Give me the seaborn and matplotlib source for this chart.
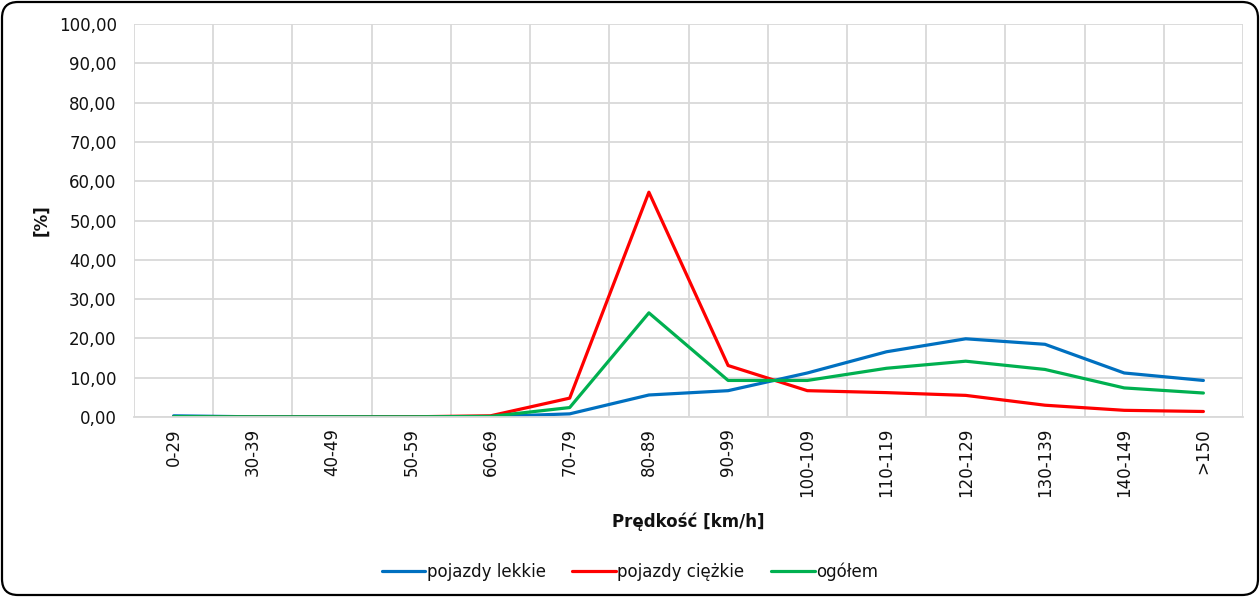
import pandas as pd
import matplotlib.pyplot as plt
import seaborn as sns
from matplotlib.patches import FancyBboxPatch
from matplotlib.ticker import FuncFormatter, FixedLocator
from matplotlib.transforms import IdentityTransform

# Data
categories = ['0-29', '30-39', '40-49', '50-59', '60-69', '70-79', '80-89',
              '90-99', '100-109', '110-119', '120-129', '130-139', '140-149', '>150']
light = [0.3, 0.05, 0.05, 0.05, 0.1, 0.8, 5.6, 6.7, 11.2, 16.6, 19.9, 18.5, 11.2, 9.3]
heavy = [0.0, 0.0, 0.0, 0.05, 0.3, 4.8, 57.2, 13.1, 6.7, 6.2, 5.5, 3.0, 1.7, 1.4]
total = [0.1, 0.05, 0.05, 0.05, 0.15, 2.4, 26.5, 9.3, 9.3, 12.4, 14.2, 12.1, 7.4, 6.1]
series_names = ['pojazdy lekkie', 'pojazdy ciężkie', 'ogółem']
colors = ['#0070c0', '#ff0000', '#00b050']

df = pd.DataFrame({
    'x': list(range(len(categories))) * 3,
    'value': light + heavy + total,
    'series': [s for s in series_names for _ in categories],
})

sns.set_style('white')
plt.rcParams['font.family'] = ['DejaVu Sans']
plt.rcParams['text.color'] = '#111111'

fig = plt.figure(figsize=(12.6, 5.97), dpi=100)
ax = fig.add_axes([134 / 1260, 1 - 417 / 597, (1243 - 134) / 1260, (417 - 24) / 597])

sns.lineplot(data=df, x='x', y='value', hue='series', hue_order=series_names,
             palette=colors, linewidth=2.3, ax=ax, legend=True)

ax.set_xlim(-0.5, len(categories) - 0.5)
ax.set_ylim(0, 100)
ax.set_yticks(range(0, 101, 10))
ax.yaxis.set_major_formatter(FuncFormatter(lambda v, p: f'{v:.2f}'.replace('.', ',')))
ax.set_xticks(range(len(categories)))
ax.set_xticklabels(categories, rotation=90)
ax.xaxis.set_minor_locator(FixedLocator([i - 0.5 for i in range(len(categories) + 1)]))

ax.grid(True, which='major', axis='y', color='#d9d9d9', linewidth=1.3)
ax.grid(True, which='minor', axis='x', color='#d9d9d9', linewidth=1.3)
ax.set_axisbelow(True)
for side in ['top', 'right', 'left']:
    ax.spines[side].set_visible(False)
ax.spines['bottom'].set_color('#d9d9d9')
ax.spines['bottom'].set_linewidth(1.3)

ax.tick_params(axis='y', which='both', length=0, labelsize=12, pad=12.5, labelcolor='#111111')
ax.tick_params(axis='x', which='major', length=0, labelsize=12, pad=8, labelcolor='#111111')
ax.tick_params(axis='x', which='minor', length=6, width=1.3, color='#d9d9d9')

ax.set_xlabel('Prędkość [km/h]', fontsize=12, fontweight='bold', labelpad=11, color='#111111')
ax.set_ylabel('[%]', fontsize=12, fontweight='bold', labelpad=6, color='#111111')

handles, labels = ax.get_legend_handles_labels()
ax.legend_.remove()
fig.legend(handles, labels, loc='center', bbox_to_anchor=(0.5, 1 - 572 / 597), ncol=3,
           frameon=False, fontsize=12, handlelength=2.6, handletextpad=0.1, columnspacing=1.6)

frame = FancyBboxPatch((2, 2), 1256, 593, boxstyle='round,pad=0,rounding_size=16',
                       transform=IdentityTransform(), facecolor='none', edgecolor='black',
                       linewidth=1.6)
fig.patches.append(frame)

fig.savefig('out.png', dpi=100)
